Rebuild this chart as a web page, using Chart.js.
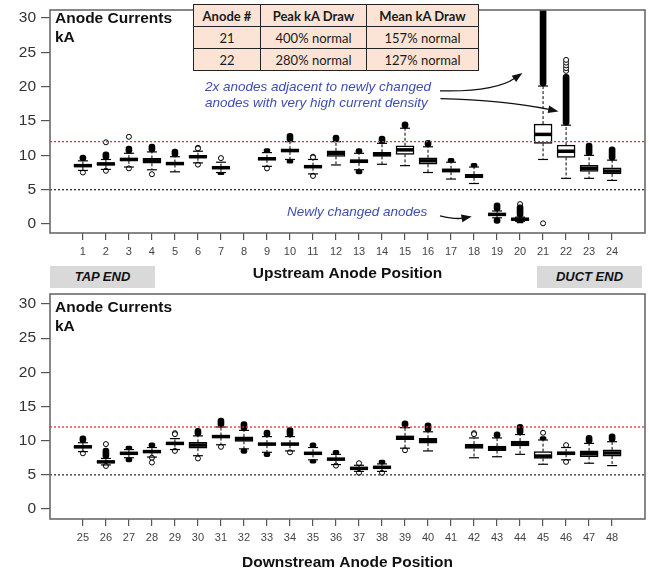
<!DOCTYPE html>
<html>
<head>
<meta charset="utf-8">
<script src="https://cdn.jsdelivr.net/npm/chart.js@4.4.1/dist/chart.umd.min.js"></script>
<style>
  body { margin: 0; background: #fff; overflow: hidden; }
  #wrap { position: relative; width: 649px; height: 569px; overflow: hidden; font-family: "Liberation Sans", Arial, sans-serif; }
  canvas { position: absolute; left: 0; }
  .ttl { position: absolute; left: 55px; font-weight: bold; font-size: 15.5px; line-height: 19px; color: #111; }
  .end { position: absolute; width: 105px; height: 21.5px; line-height: 21.5px; background: #d9d9d9; text-align: center;
         font-weight: bold; font-style: italic; font-size: 13px; color: #111; }
  .note { position: absolute; color: #3d4fae; font-style: italic; font-size: 13.5px; line-height: 16px; white-space: nowrap; }
  table { position: absolute; left: 193px; top: 4px; width: 285px; border-collapse: collapse; table-layout: fixed;
          background: #fbe4d5; font-family: Lato, "Open Sans", sans-serif; font-size: 13px; color: #1a1a1a; }
  td, th { border: 1.5px solid #222; height: 21px; padding: 0; text-align: center; font-weight: normal; }
  th { font-weight: bold; }
</style>
</head>
<body>
<div id="wrap">
  <canvas id="up" width="649" height="290" style="top:0"></canvas>
  <canvas id="down" width="649" height="282" style="top:290px"></canvas>

  <div class="ttl" style="top:8px">Anode Currents<br>kA</div>
  <div class="ttl" style="top:297px">Anode Currents<br>kA</div>

  <table>
    <colgroup><col style="width:67px"><col style="width:106px"><col style="width:112px"></colgroup>
    <tr><th>Anode #</th><th>Peak kA Draw</th><th>Mean kA Draw</th></tr>
    <tr><td>21</td><td>400% normal</td><td>157% normal</td></tr>
    <tr><td>22</td><td>280% normal</td><td>127% normal</td></tr>
  </table>

  <div class="note" style="left:205px;top:79px">2x anodes adjacent to newly changed<br>anodes with very high current density</div>
  <div class="note" style="left:287px;top:204px">Newly changed anodes</div>

  <div class="end" style="left:50px;top:266px">TAP END</div>
  <div class="end" style="left:537px;top:266px">DUCT END</div>
</div>

<script>
// upstream anodes 1-24 (kA), null = no data
var upPos = [1, 2, 3, 4, 5, 6, 7, 8, 9, 10, 11, 12, 13, 14, 15, 16, 17, 18, 19, 20, 21, 22, 23, 24];
var upMed = [8.5, 8.75, 9.4, 9.2, 8.8, 9.8, 8.2, null, 9.5, 10.7, 8.35, 10.3, 9.15, 10.15, 10.8, 9.2, 7.8, 7.0, 1.4, 0.7, 13.05, 10.6, 8.1, 7.7];
var upQ1 = [8.35, 8.6, 9.2, 8.85, 8.65, 9.65, 8.05, null, 9.35, 10.5, 8.2, 9.85, 8.9, 9.85, 10.15, 8.7, 7.55, 6.75, 1.3, 0.6, 11.75, 9.7, 7.65, 7.3];
var upQ3 = [8.65, 8.9, 9.6, 9.55, 8.95, 9.95, 8.35, null, 9.65, 10.9, 8.5, 10.65, 9.35, 10.45, 11.4, 9.65, 8.05, 7.25, 1.5, 0.8, 14.55, 11.5, 8.55, 8.2];
var upLo = [7.8, 7.95, 8.3, 7.9, 7.6, 8.9, 7.5, null, 8.4, 9.4, 7.3, 8.6, 7.9, 8.7, 8.5, 7.5, 6.55, 5.9, 0.9, 0.4, 9.4, 6.65, 6.65, 6.35];
var upHi = [9.2, 9.4, 10.3, 10.5, 9.8, 10.6, 9.0, null, 10.4, 12.0, 9.4, 12.0, 10.3, 11.75, 13.95, 11.25, 9.0, 8.3, 1.9, 1.0, 20.1, 14.4, 10.0, 9.3];
// dense runs of outliers (top of upper run / bottom of lower run)
var upOutHi = [10.05, 10.5, 11.35, 11.65, 10.9, null, null, null, 11.0, 13.2, null, 12.95, 11.0, 12.8, 14.9, 12.2, 9.55, 8.85, 3.1, 2.8, 34, 21.8, 11.8, 11.25];
var upOutLo = [null, null, null, null, null, null, 7.2, null, null, 8.85, null, null, 7.3, null, null, null, null, null, 0.1, 0.15, null, null, null, null];
var upCircles = [[1, 7.5], [2, 11.9], [2, 7.75], [3, 12.7], [3, 8.1], [4, 7.25], [6, 11.1], [6, 11.0], [6, 8.65],
  [7, 9.6], [9, 8.1], [11, 9.8], [11, 9.7], [11, 7.0], [20, 2.9], [21, 0.1],
  [22, 22.3], [22, 22.7], [22, 23.1], [22, 23.5], [22, 23.9]];

// downstream anodes 25-48
var dnPos = [25, 26, 27, 28, 29, 30, 31, 32, 33, 34, 35, 36, 37, 38, 39, 40, 41, 42, 43, 44, 45, 46, 47, 48];
var dnMed = [9.1, 6.9, 8.15, 8.4, 9.6, 9.35, 10.6, 10.25, 9.5, 9.5, 8.15, 7.3, 5.95, 6.1, 10.45, 10.0, null, 9.2, 8.9, 9.6, 7.75, 8.15, 8.1, 8.2];
var dnQ1 = [8.95, 6.8, 8.0, 8.25, 9.45, 8.9, 10.45, 9.9, 9.35, 9.35, 8.0, 7.15, 5.85, 5.95, 10.15, 9.65, null, 8.85, 8.55, 9.25, 7.4, 8.0, 7.65, 7.75];
var dnQ3 = [9.25, 7.0, 8.3, 8.55, 9.75, 9.75, 10.75, 10.55, 9.65, 9.65, 8.3, 7.45, 6.05, 6.25, 10.7, 10.35, null, 9.5, 9.2, 9.95, 8.4, 8.35, 8.5, 8.65];
var dnLo = [8.4, 6.45, 7.5, 7.6, 8.7, 7.8, 9.4, 8.8, 8.3, 8.5, 7.2, 6.5, 5.5, 5.5, 8.9, 8.5, null, 7.5, 7.65, 8.0, 6.55, 7.2, 6.7, 6.35];
var dnHi = [9.7, 7.4, 8.7, 9.0, 10.3, 10.7, 12.0, 11.5, 10.6, 10.6, 9.0, 8.0, 6.4, 6.6, 11.9, 11.3, null, 10.4, 10.4, 10.9, 10.1, 9.0, 9.6, 9.85];
var dnOutHi = [10.7, 8.9, 9.2, 9.7, null, 11.8, 13.3, 12.8, 11.55, 11.9, 9.7, 8.6, null, 7.15, 12.9, 12.6, null, null, 11.3, 12.4, 10.6, null, 10.8, 11.0];
var dnOutLo = [null, null, 6.9, null, null, null, null, 8.15, 7.65, null, 6.7, null, null, null, null, null, null, null, null, null, null, null, null, null];
var dnCircles = [[25, 8.15], [26, 9.5], [26, 6.3], [28, 7.5], [28, 6.8], [29, 11.1], [29, 10.95], [29, 8.5], [30, 7.4],
  [31, 9.1], [34, 8.3], [36, 6.35], [37, 6.7], [37, 5.3], [38, 5.3], [39, 8.6], [42, 11.1], [42, 10.95],
  [45, 11.15], [46, 9.35], [46, 6.9]];

var yTicks = [0, 5, 10, 15, 20, 25, 30];
var upperLimit = 12;   // red dotted
var lowerLimit = 5;    // black dotted

Chart.defaults.font.family = '"Liberation Sans", Arial, sans-serif';

var framePlugin = {
  id: 'frame',
  afterDatasetsDraw: function (chart) {
    var a = chart.chartArea, c = chart.ctx;
    c.save();
    c.strokeStyle = '#6a6a6a';
    c.lineWidth = 1.6;
    c.strokeRect(a.left, a.top, a.right - a.left, a.bottom - a.top);
    c.restore();
  }
};

// curved callout arrows, in data units: start, control, tip
var arrows = [
  [[16.52, 19.4], [18.9, 19.2], [20.1, 22.0]],
  [[16.54, 18.25], [19.3, 18.05], [21.67, 16.4]],
  [[16.52, 1.2], [17.2, 0.65], [17.9, 1.1]]
];

var arrowPlugin = {
  id: 'arrows',
  afterDraw: function (chart) {
    var c = chart.ctx, sx = chart.scales.x, sy = chart.scales.y;
    c.save();
    c.strokeStyle = '#111';
    c.fillStyle = '#111';
    c.lineWidth = 1.3;
    arrows.forEach(function (a) {
      var p = a.map(function (q) { return [sx.getPixelForValue(q[0]), sy.getPixelForValue(q[1])]; });
      var ang = Math.atan2(p[2][1] - p[1][1], p[2][0] - p[1][0]);
      var L = 11;
      var bx = p[2][0] - Math.cos(ang) * L * 0.8, by = p[2][1] - Math.sin(ang) * L * 0.8;
      c.beginPath();
      c.moveTo(p[0][0], p[0][1]);
      c.quadraticCurveTo(p[1][0], p[1][1], bx, by);
      c.stroke();
      c.beginPath();
      c.moveTo(p[2][0], p[2][1]);
      c.lineTo(p[2][0] - L * Math.cos(ang - 0.36), p[2][1] - L * Math.sin(ang - 0.36));
      c.lineTo(p[2][0] - L * Math.cos(ang + 0.36), p[2][1] - L * Math.sin(ang + 0.36));
      c.closePath();
      c.fill();
    });
    c.restore();
  }
};

function boxChart(id, pos, med, q1, q3, lo, hi, outHi, outLo, circles, o) {
  var idx = [];
  pos.forEach(function (p, i) { if (med[i] !== null) idx.push(i); });

  var boxes = idx.map(function (i) { return { x: pos[i], y: [q1[i], q3[i]] }; });
  var medians = idx.map(function (i) { return { x: pos[i], y: med[i] }; });
  var caps = [];
  var whiskers = [];
  var bands = [];
  idx.forEach(function (i) {
    caps.push({ x: pos[i], y: lo[i] }, { x: pos[i], y: hi[i] });
    whiskers.push({ x: pos[i], y: q3[i] }, { x: pos[i], y: hi[i] }, { x: pos[i], y: null },
                  { x: pos[i], y: q1[i] }, { x: pos[i], y: lo[i] }, { x: pos[i], y: null });
    if (outHi[i] !== null) bands.push({ x: pos[i], y: [hi[i], outHi[i]] });
    if (outLo[i] !== null) bands.push({ x: pos[i], y: [outLo[i], lo[i]] });
  });
  var pts = circles.map(function (c) { return { x: c[0], y: c[1] }; });

  return new Chart(document.getElementById(id), {
    type: 'bar',
    data: {
      datasets: [
        { type: 'line', data: [{ x: o.xMin, y: upperLimit }, { x: o.xMax, y: upperLimit }], borderColor: '#e8302a',
          borderWidth: 1.3, borderDash: [2, 2], pointRadius: 0, order: 0 },
        { type: 'line', data: [{ x: o.xMin, y: lowerLimit }, { x: o.xMax, y: lowerLimit }], borderColor: '#333',
          borderWidth: 1.3, borderDash: [2, 2], pointRadius: 0, order: 0 },
        { type: 'line', data: medians, showLine: false, pointStyle: 'line', pointRadius: 9, pointBorderWidth: 3.5,
          pointBorderColor: '#000', borderColor: '#000', order: 1 },
        { type: 'bar', data: boxes, backgroundColor: '#fff', borderColor: '#000', borderWidth: 1.5,
          borderSkipped: false, barThickness: 18, grouped: false, order: 2 },
        { type: 'line', data: caps, showLine: false, pointStyle: 'line', pointRadius: 5, pointBorderWidth: 1.2,
          pointBorderColor: '#000', borderColor: '#000', order: 3 },
        { type: 'bar', data: bands, backgroundColor: '#000', barThickness: 6, borderRadius: 3,
          borderSkipped: false, grouped: false, order: 4 },
        { type: 'line', data: pts, showLine: false, pointStyle: 'circle', pointRadius: 2.5, pointBorderWidth: 1,
          pointBackgroundColor: '#fff', pointBorderColor: '#000', borderColor: '#000', order: 5 },
        { type: 'line', data: whiskers, borderColor: '#000', borderWidth: 1, borderDash: [3, 2],
          pointRadius: 0, spanGaps: false, order: 6 }
      ]
    },
    options: {
      responsive: false,
      animation: false,
      layout: { autoPadding: false, padding: { top: o.padTop, right: 4, left: 0, bottom: 0 } },
      plugins: { legend: { display: false }, tooltip: { enabled: false } },
      scales: {
        x: {
          type: 'linear', min: o.xMin, max: o.xMax, offset: false,
          afterBuildTicks: function (s) { s.ticks = pos.map(function (v) { return { value: v }; }); },
          afterFit: function (s) { s.height = o.xHeight; s.paddingLeft = 0; s.paddingRight = 0; },
          ticks: { autoSkip: false, maxRotation: 0, padding: 5, color: '#444', font: { size: 11 } },
          grid: { offset: false, drawOnChartArea: false, tickLength: 7, color: '#555', lineWidth: 1.2 },
          border: { display: false },
          title: { display: true, text: o.title, color: '#111', font: { size: 15.5, weight: 'bold' },
                   padding: { top: 0, bottom: o.titlePad } }
        },
        y: {
          type: 'linear', min: o.yMin, max: o.yMax,
          afterBuildTicks: function (s) { s.ticks = yTicks.map(function (v) { return { value: v }; }); },
          afterFit: function (s) { s.width = 50; s.paddingTop = 0; s.paddingBottom = 0; },
          ticks: { padding: 5, color: '#333', font: { size: 15.5 } },
          grid: { drawOnChartArea: false, tickLength: 9, color: '#555', lineWidth: 1.2 },
          border: { display: false }
        }
      }
    },
    plugins: o.plugins
  });
}

boxChart('up', upPos, upMed, upQ1, upQ3, upLo, upHi, upOutHi, upOutLo, upCircles, {
  xMin: -0.43, xMax: 25.43, yMin: -1.31, yMax: 31.17, padTop: 10, xHeight: 57, titlePad: 7,
  title: 'Upstream Anode Position', plugins: [framePlugin, arrowPlugin]
});

boxChart('down', dnPos, dnMed, dnQ1, dnQ3, dnLo, dnHi, dnOutHi, dnOutLo, dnCircles, {
  xMin: 23.57, xMax: 49.43, yMin: -1.46, yMax: 31.46, padTop: 4, xHeight: 53, titlePad: 0,
  title: 'Downstream Anode Position', plugins: [framePlugin]
});
</script>
</body>
</html>
